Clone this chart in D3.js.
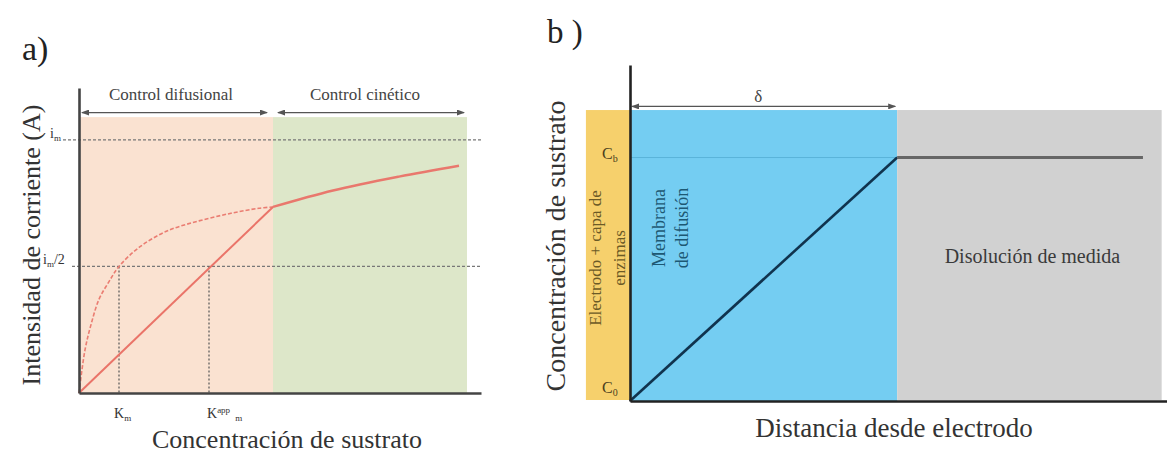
<!DOCTYPE html>
<meta charset="utf-8">
<script src="https://cdn.jsdelivr.net/npm/d3@7"></script>
<style>
  body { margin: 0; background: #fff; }
  svg text { font-family: "Liberation Serif", "DejaVu Serif", serif; fill: #333; }
</style>
<svg id="fig" width="1167" height="457"></svg>

<script>
// ---------- panel a : data ----------
var regionNames  = ["Control difusional", "Control cinético"];
var regionStart  = [0, 4.85];
var regionEnd    = [4.85, 9.7];
var regionColors = ["#fae2d1", "#dde7c9"];

// michaelis-menten like curve (dashed part, diffusion control)
var mmX = [0, 0.15, 0.3, 0.5, 0.75, 1.0, 1.5, 2.2, 3.0, 3.8, 4.5, 4.85];
var mmY = [0, 0.17, 0.27, 0.37, 0.44, 0.5, 0.575, 0.64, 0.68, 0.71, 0.73, 0.735];
// solid continuation (kinetic control)
var satX = [4.85, 6.35, 8.0, 9.5];
var satY = [0.735, 0.80, 0.855, 0.898];
// apparent (linear) response
var linX = [0, 4.85];
var linY = [0, 0.735];

var kM = 1.0, kMapp = 3.25;
var iLevels = [1, 0.5];

// ---------- panel b : data ----------
var layerNames  = [["Electrodo + capa de", "enzimas"], ["Membrana", "de difusión"], ["Disolución de medida"]];
var layerStart  = [-0.165, 0, 1];
var layerEnd    = [0, 1, 1.99];
var layerColors = ["#f6d06c", "#74cdf2", "#d1d1d1"];
var profX = [0, 1, 1.92];
var profY = [0, 1, 1];

var svg = d3.select("#fig");

// arrow marker
svg.append("defs").append("marker")
    .attr("id", "arr")
    .attr("viewBox", "0 0 8 6")
    .attr("refX", 7).attr("refY", 3)
    .attr("markerWidth", 8).attr("markerHeight", 6)
    .attr("markerUnits", "userSpaceOnUse")
    .attr("orient", "auto-start-reverse")
  .append("path")
    .attr("d", "M0,0L8,3L0,6z")
    .attr("fill", "#555");

// ================= panel a =================
var xa = d3.scaleLinear().domain([0, 10.05]).range([79, 481]);
var ya = d3.scaleLinear().domain([0, 1.205]).range([393, 88]);
var ga = svg.append("g");

ga.append("text").attr("x", 22).attr("y", 60)
  .style("font-size", "34px").style("fill", "#222").text("a)");

// background regions
ga.selectAll(".reg").data(regionNames).enter().append("rect")
  .attr("x", function(d, i) { return xa(regionStart[i]); })
  .attr("y", ya(1.09))
  .attr("width", function(d, i) { return xa(regionEnd[i]) - xa(regionStart[i]); })
  .attr("height", ya(0) - ya(1.09))
  .attr("fill", function(d, i) { return regionColors[i]; });

// region arrows + labels
ga.selectAll(".rarr").data(regionNames).enter().append("line")
  .attr("x1", function(d, i) { return xa(regionStart[i]) + (i ? 5 : 3); })
  .attr("x2", function(d, i) { return xa(regionEnd[i]) - (i ? 3 : 6); })
  .attr("y1", ya(1.108)).attr("y2", ya(1.108))
  .attr("stroke", "#555").attr("stroke-width", 1.2)
  .attr("marker-start", "url(#arr)").attr("marker-end", "url(#arr)");

ga.selectAll(".rlab").data(regionNames).enter().append("text")
  .attr("x", function(d, i) { return (xa(regionStart[i]) + xa(regionEnd[i])) / 2 - 5; })
  .attr("y", ya(1.156))
  .attr("text-anchor", "middle")
  .style("font-size", "17px").style("fill", "#444")
  .text(function(d) { return d; });

// horizontal dashed levels i_m and i_m/2
ga.selectAll(".lev").data(iLevels).enter().append("line")
  .attr("x1", function(d) { return d === 1 ? 63 : 72; })
  .attr("x2", xa(10.05))
  .attr("y1", function(d) { return ya(d); }).attr("y2", function(d) { return ya(d); })
  .attr("stroke", "#777").attr("stroke-width", 1.3).attr("stroke-dasharray", "3,2");

// vertical dotted lines at Km and Km app
ga.selectAll(".kv").data([kM, kMapp]).enter().append("line")
  .attr("x1", function(d) { return xa(d); }).attr("x2", function(d) { return xa(d); })
  .attr("y1", ya(0.5)).attr("y2", ya(0))
  .attr("stroke", "#555").attr("stroke-width", 1.2).attr("stroke-dasharray", "2,2");

// curves
var pts = function(xs, ys) { return xs.map(function(v, i) { return [v, ys[i]]; }); };
var lineA = d3.line().x(function(d) { return xa(d[0]); }).y(function(d) { return ya(d[1]); })
  .curve(d3.curveCatmullRom);

ga.append("path").attr("d", lineA(pts(mmX, mmY)))
  .attr("fill", "none").attr("stroke", "#ea7d72").attr("stroke-width", 1.6)
  .attr("stroke-dasharray", "4,2");
ga.append("path").attr("d", lineA(pts(satX, satY)))
  .attr("fill", "none").attr("stroke", "#e9786d").attr("stroke-width", 2.4);
ga.append("path").attr("d", lineA(pts(linX, linY)))
  .attr("fill", "none").attr("stroke", "#ea7469").attr("stroke-width", 2);

// axes
ga.append("g").attr("transform", "translate(" + xa(0) + ",0)")
  .call(d3.axisLeft(ya).tickValues([]).tickSizeOuter(0));
ga.append("g").attr("transform", "translate(0," + ya(0) + ")")
  .call(d3.axisBottom(xa).tickValues([]).tickSizeOuter(0));
ga.selectAll(".domain").attr("stroke", "#444").attr("stroke-width", 2.6);

// y labels i_m, i_m/2
var tIm = ga.append("text").attr("x", 50).attr("y", ya(1) - 2).style("font-size", "14px");
tIm.append("tspan").text("i");
tIm.append("tspan").attr("dy", 3).style("font-size", "9px").text("m");
var tIm2 = ga.append("text").attr("x", 43).attr("y", ya(0.5) - 2).style("font-size", "14px");
tIm2.append("tspan").text("i");
tIm2.append("tspan").attr("dy", 3).style("font-size", "9px").text("m");
tIm2.append("tspan").attr("dy", -3).text("/2");

// x labels K_m and K^app_m
var tK = ga.append("text").attr("x", xa(kM) - 5).attr("y", 418).style("font-size", "14px");
tK.append("tspan").text("K");
tK.append("tspan").attr("dy", 3).style("font-size", "9px").text("m");
var tKa = ga.append("text").attr("x", xa(kMapp) - 2).attr("y", 418).style("font-size", "14px");
tKa.append("tspan").text("K");
tKa.append("tspan").attr("dy", -5).style("font-size", "9px").text("app");
tKa.append("tspan").attr("dy", 8).attr("dx", 5).style("font-size", "9px").text("m");

// axis titles
ga.append("text").attr("x", 287).attr("y", 448).attr("text-anchor", "middle")
  .style("font-size", "26px").text("Concentración de sustrato");
ga.append("text").attr("transform", "translate(40,245) rotate(-90)").attr("text-anchor", "middle")
  .style("font-size", "26px").text("Intensidad de corriente (A)");

// ================= panel b =================
var xb = d3.scaleLinear().domain([0, 2.01]).range([630, 1167]);
var yb = d3.scaleLinear().domain([0, 1.38]).range([401, 65]);
var gb = svg.append("g");

gb.append("text").attr("x", 547).attr("y", 43)
  .style("font-size", "33px").style("fill", "#222").text("b )");

gb.selectAll(".lay").data(layerNames).enter().append("rect")
  .attr("x", function(d, i) { return xb(layerStart[i]); })
  .attr("y", yb(1.195))
  .attr("width", function(d, i) { return xb(layerEnd[i]) - xb(layerStart[i]); })
  .attr("height", function(d, i) { return yb(0) - yb(1.195) - (i === 1 ? 0 : 1); })
  .attr("fill", function(d, i) { return layerColors[i]; });

// delta arrow
gb.append("line")
  .attr("x1", xb(0) + 2).attr("x2", xb(1) - 2)
  .attr("y1", yb(1.21)).attr("y2", yb(1.21))
  .attr("stroke", "#555").attr("stroke-width", 1.2)
  .attr("marker-start", "url(#arr)").attr("marker-end", "url(#arr)");
gb.append("text").attr("x", xb(0.48)).attr("y", yb(1.23))
  .attr("text-anchor", "middle").style("font-size", "17px").style("fill", "#444").text("δ");

// faint Cb level across the membrane
gb.append("line")
  .attr("x1", xb(0)).attr("x2", xb(1))
  .attr("y1", yb(1)).attr("y2", yb(1))
  .attr("stroke", "#5ab3da").attr("stroke-width", 1);

// concentration profile
var lineB = d3.line().x(function(d) { return xb(d[0]); }).y(function(d) { return yb(d[1]); });
gb.append("path").attr("d", lineB(pts(profX.slice(0, 2), profY.slice(0, 2))))
  .attr("fill", "none").attr("stroke", "#10334e").attr("stroke-width", 2.6);
gb.append("path").attr("d", lineB(pts(profX.slice(1), profY.slice(1))))
  .attr("fill", "none").attr("stroke", "#666").attr("stroke-width", 3);

// layer labels
var lab0 = gb.append("text").attr("transform", "translate(601,258) rotate(-90)")
  .attr("text-anchor", "middle").style("font-size", "17px").style("fill", "#6b5a26");
layerNames[0].forEach(function(s, k) { lab0.append("tspan").attr("x", 0).attr("dy", k ? 24 : 0).text(s); });
var lab1 = gb.append("text").attr("transform", "translate(665,228) rotate(-90)")
  .attr("text-anchor", "middle").style("font-size", "18px").style("fill", "#1d5873");
layerNames[1].forEach(function(s, k) { lab1.append("tspan").attr("x", 0).attr("dy", k ? 23 : 0).text(s); });
gb.append("text").attr("x", (xb(1) + xb(1.99)) / 2 + 3).attr("y", 263)
  .attr("text-anchor", "middle").style("font-size", "20px").style("fill", "#3a3a3a")
  .text(layerNames[2][0]);

// C labels
var tCb = gb.append("text").attr("x", 602).attr("y", yb(1) + 1).style("font-size", "16px").style("fill", "#4a4020");
tCb.append("tspan").text("C");
tCb.append("tspan").attr("dy", 3).style("font-size", "10px").text("b");
var tC0 = gb.append("text").attr("x", 602).attr("y", yb(0) - 8).style("font-size", "16px").style("fill", "#4a4020");
tC0.append("tspan").text("C");
tC0.append("tspan").attr("dy", 3).style("font-size", "10px").text("0");

// axes
gb.append("g").attr("transform", "translate(" + xb(0) + ",0)")
  .call(d3.axisLeft(yb).tickValues([]).tickSizeOuter(0));
gb.append("g").attr("transform", "translate(0," + yb(0) + ")")
  .call(d3.axisBottom(xb).tickValues([]).tickSizeOuter(0));
gb.selectAll(".domain").attr("stroke", "#222").attr("stroke-width", 2.6);

gb.append("text").attr("x", 894).attr("y", 437).attr("text-anchor", "middle")
  .style("font-size", "27px").text("Distancia desde electrodo");
gb.append("text").attr("transform", "translate(565,246) rotate(-90)").attr("text-anchor", "middle")
  .style("font-size", "28px").text("Concentración de sustrato");
</script>
